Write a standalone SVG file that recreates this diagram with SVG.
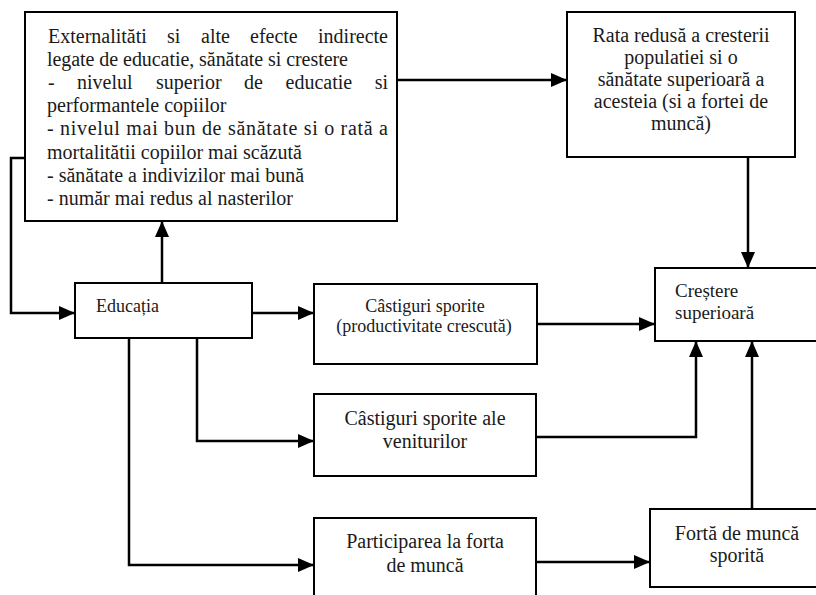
<svg xmlns="http://www.w3.org/2000/svg" width="816" height="595" viewBox="0 0 816 595">
<defs>
<style>
.box{fill:#fff;stroke:#000;stroke-width:2}
.c{text-anchor:middle}
.conn path{fill:none;stroke:#000;stroke-width:2.5;marker-end:url(#ah)}
</style>
<marker id="ah" markerUnits="userSpaceOnUse" markerWidth="16" markerHeight="14" viewBox="0 0 16 14" refX="16" refY="7" orient="auto">
<path d="M0,0 L16,7 L0,14 z" fill="#000"/>
</marker>
</defs>
<rect width="816" height="595" fill="#fff"/>
<g font-family="'Liberation Serif', 'DejaVu Serif', serif" fill="#1a1a1a">
<g id="n-externalitati">
<rect class="box" x="25" y="12" width="372" height="209"/>
<text font-size="20"><tspan x="48" y="42.5">Externalităti</tspan><tspan x="167" y="42.5">si</tspan><tspan x="201" y="42.5">alte</tspan><tspan x="250" y="42.5">efecte</tspan><tspan x="388" y="42.5" text-anchor="end">indirecte</tspan></text>
<text font-size="20" x="47" y="65.7" textLength="301" lengthAdjust="spacing">legate de educatie, sănătate si crestere</text>
<text font-size="20"><tspan x="48" y="88.9">-</tspan><tspan x="77" y="88.9">nivelul</tspan><tspan x="156" y="88.9">superior</tspan><tspan x="244" y="88.9">de</tspan><tspan x="285.5" y="88.9">educatie</tspan><tspan x="388" y="88.9" text-anchor="end">si</tspan></text>
<text font-size="20" x="47" y="112.1">performantele copiilor</text>
<text font-size="20" x="47" y="135.3" textLength="341" lengthAdjust="spacing">- nivelul mai bun de sănătate si o rată a</text>
<text font-size="20" x="47" y="158.5">mortalitătii copiilor mai scăzută</text>
<text font-size="20" x="47" y="181.7">- sănătate a indivizilor mai bună</text>
<text font-size="20" x="47" y="204.9">- număr mai redus al nasterilor</text>
</g>

<g id="n-rata">
<rect class="box" x="567" y="12" width="228" height="145"/>
<text class="c" font-size="20" x="681" y="42">Rata redusă a cresterii</text>
<text class="c" font-size="20" x="681" y="64">populatiei si o</text>
<text class="c" font-size="20" x="681" y="86">sănătate superioară a</text>
<text class="c" font-size="20" x="681" y="108">acesteia (si a fortei de</text>
<text class="c" font-size="20" x="681" y="130">muncă)</text>
</g>

<g id="n-educatia">
<rect class="box" x="75" y="283" width="177" height="55"/>
<text font-size="18" x="96" y="311.5">Educația</text>
</g>

<g id="n-castiguri1">
<rect class="box" x="314" y="284" width="223" height="80"/>
<text class="c" font-size="18" x="425" y="311.5">Câstiguri sporite</text>
<text class="c" font-size="18" x="424" y="331.5">(productivitate crescută)</text>
</g>

<g id="n-crestere">
<rect class="box" x="655" y="268" width="180" height="73"/>
<text font-size="19" x="675" y="297">Creștere</text>
<text font-size="19" x="675" y="318.5">superioară</text>
</g>

<g id="n-castiguri2">
<rect class="box" x="314" y="394" width="222" height="82"/>
<text class="c" font-size="20" x="425" y="425">Câstiguri sporite ale</text>
<text class="c" font-size="20" x="425" y="447.5">veniturilor</text>
</g>

<g id="n-participarea">
<rect class="box" x="314" y="518" width="222" height="90"/>
<text class="c" font-size="20" x="425" y="547.5">Participarea la forta</text>
<text class="c" font-size="20" x="425" y="571.5">de muncă</text>
</g>

<g id="n-forta">
<rect class="box" x="650" y="509" width="180" height="78"/>
<text class="c" font-size="20" x="737" y="540">Fortă de muncă</text>
<text class="c" font-size="20" x="737" y="562">sporită</text>
</g>
</g>

<g id="connectors" class="conn">
<path d="M397,80 H567"/>
<path d="M748,157 V268"/>
<path d="M162,283 V221"/>
<path d="M25,158 H11 V313 H75"/>
<path d="M252,313 H314"/>
<path d="M537,324 H655"/>
<path d="M197,338 V441 H314"/>
<path d="M129,338 V565 H314"/>
<path d="M536,437 H696 V341"/>
<path d="M536,562 H650"/>
<path d="M752,509 V341"/>
</g>
</svg>
